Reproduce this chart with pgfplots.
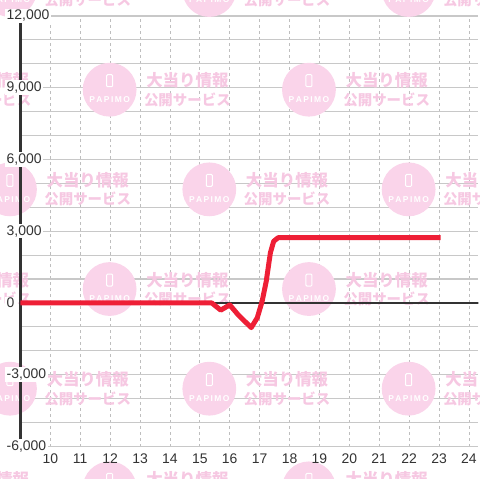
\documentclass[border=0pt]{standalone}
\usepackage{fontspec}
\setmainfont{Liberation Sans}
\newfontfamily\cjk{Noto Sans CJK JP}
\usepackage{pgfplots}
\pgfplotsset{compat=1.18}
\definecolor{wmcirc}{RGB}{250,212,234}
\definecolor{wmtext}{RGB}{246,200,226}
\definecolor{redline}{RGB}{238,31,54}
\definecolor{axisdark}{RGB}{51,51,51}
\definecolor{gridc}{RGB}{200,200,200}
\definecolor{vgridc}{RGB}{190,190,190}
\newcommand{\wm}[2]{%
  \fill[wmcirc] (#1,480-#2) circle (27);
  \draw[white, line width=1bp, rounded corners=1bp] (#1-3,480-#2+15) rectangle (#1+3,480-#2+3);
  \node[white, inner sep=0pt, font=\fontsize{8.5bp}{9bp}\selectfont\bfseries] at (#1,480-#2-10) {P\,A\,P\,I\,M\,O};
  \node[wmtext, inner sep=0pt, font=\cjk\bfseries\fontsize{16.5bp}{17bp}\selectfont] at (#1+78,480-#2+9) {大当り情報};
  \node[wmtext, inner sep=0pt, font=\cjk\bfseries\fontsize{14.5bp}{15bp}\selectfont] at (#1+78,480-#2-10) {公開サービス};
}
\pgfplotsset{set layers=standard}
\begin{document}
\begin{tikzpicture}[x=1bp,y=1bp]
\begin{axis}[
  at={(20.5bp,32bp)}, anchor=south west,
  scale only axis, width=459.5bp, height=432bp,
  xmin=9, xmax=24.317, ymin=-6000, ymax=12000,
  xtick={10,...,24},
  ytick={-6000,-3000,0,3000,6000,9000,12000},
  minor ytick={-5000,-4000,-2000,-1000,1000,2000,4000,5000,7000,8000,10000,11000},
  scaled y ticks=false,
  xmajorgrids, ymajorgrids, yminorgrids,
  x grid style={vgridc, line width=0.8bp, dash pattern=on 3bp off 3bp},
  y grid style={gridc, line width=1.2bp},
  major tick length=0pt, minor tick length=0pt,
  separate axis lines,
  axis x line*=bottom, axis y line*=left,
  x axis line style={draw=none},
  y axis line style={axisdark, line width=3bp},
  tick label style={font=\fontsize{14bp}{16bp}\selectfont, text=axisdark},
  xticklabel style={yshift=-3.5bp},
  yticklabel style={anchor=west, xshift=-15.5bp, fill=white, inner sep=1.5bp},
  /pgf/number format/.cd, 1000 sep={,}, assume math mode=true,
]
\addplot[axisdark, line width=2.5bp, forget plot] coordinates {(9,0) (24.4,0)};
\addplot[redline, line width=5bp, line join=round] coordinates {
(9,0) (15.40,0) (15.70,-300) (16.00,-80) (16.30,-520) (16.72,-1030) (16.92,-620)
(17.08,50) (17.22,900) (17.36,2100) (17.47,2580) (17.62,2730) (23.05,2730)
};
\end{axis}
\useasboundingbox (0,0) rectangle (480,480);
\begin{pgfonlayer}{axis ticks}
\foreach \cx in {-190,10,210,410}{\foreach \cy in {-10,190,390}{\wm{\cx}{\cy}}}
\foreach \cx in {-90,110,310}{\foreach \cy in {90,290,490}{\wm{\cx}{\cy}}}
\end{pgfonlayer}
\end{tikzpicture}
\end{document}
